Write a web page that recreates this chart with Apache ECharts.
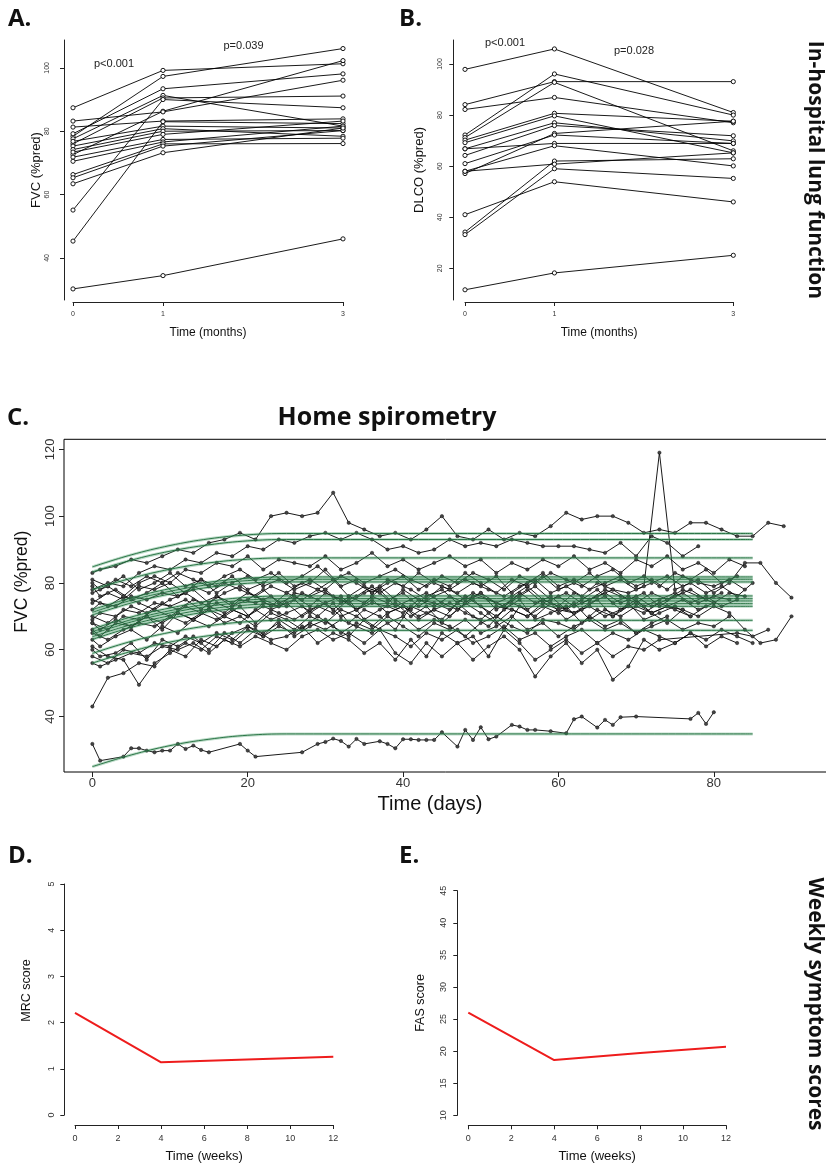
<!DOCTYPE html>
<html><head><meta charset="utf-8">
<script src="https://cdn.jsdelivr.net/npm/echarts@6/dist/echarts.min.js"></script>
<style>html,body{margin:0;padding:0;background:#fff}#c{width:826px;height:1166px}</style>
</head><body><div id="c"></div>
<script>
// ---------- Panel A: FVC (%pred) at 0, 1, 3 months ----------
const monthTicks = [0, 1, 3];
const fvcT0 = [87.4,78.4,79.2,77.6,76.0,55.1,72.6,83.2,81.3,45.3,76.8,75.3,74.2,73.4,71.8,70.5,66.3,65.3,63.4,30.2];
const fvcT1 = [99.2,97.3,93.4,91.3,90.5,90.0,86.3,86.1,83.2,83.0,81.6,80.8,80.0,79.0,77.4,76.6,76.0,75.3,73.2,34.4];
const fvcT3 = [101.3,106.1,98.1,81.6,91.1,87.4,102.3,96.1,83.9,82.4,81.0,78.4,80.2,83.2,77.8,81.6,76.1,80.2,81.0,46.0];
// ---------- Panel B: DLCO (%pred) ----------
const dlcoT0 = [97.9,72.2,84.1,71.2,82.2,70.2,69.2,66.8,64.2,57.1,61.0,66.8,58.0,34.2,33.2,58.0,41.0,11.6];
const dlcoT1 = [105.9,96.1,93.1,92.8,86.9,80.7,79.7,77.0,75.9,72.8,72.2,68.9,68.0,62.0,59.0,60.8,53.9,18.2];
const dlcoT3 = [81.0,80.0,93.1,66.0,77.0,77.6,65.2,69.9,71.9,77.6,68.9,68.9,60.1,62.9,55.2,65.2,46.0,25.1];
// ---------- Panel C: home spirometry ----------
const dayTicks = [0, 20, 40, 60, 80];
const fvcTicks = [40, 60, 80, 100, 120];
const gridEven = [0,2,4,6,8,10,12,14,16,18,20,22,24,26,28,30,32,34,36,38,40,42,44,46,48,50,52,54,56,58,60,62,64,66,68,70,72,74,76,78,80,82,84,86,88,90];
const gridOdd  = [0,1,3,5,7,9,11,13,15,17,19,21,23,25,27,29,31,33,35,37,39,41,43,45,47,49,51,53,55,57,59,61,63,65,67,69,71,73,75,77,79,81,83,85,87,89];
const p01 = [83,84,85,87,86,88,90,89,92,93,95,93,100,101,100,101,107,98,96,94,95,93,96,100,94,93,96,93,95,94,97,101,99,100,100,98,95,96,95,98,98,96,94,94,98,97];
const p02 = [78,80,79,83,85,84,87,86,89,88,91,90,93,92,94,95,93,95,93,90,91,89,90,93,91,92,91,93,92,91,91,91,90,89,92,88,94,92,88,91];
const p03 = [77,79,76,80,82,80,84,83,86,85,88,84,87,86,85,88,84,86,89,85,87,84,86,88,85,87,83,86,84,87,85,88,84,86,83,87,85,88,84,86,83,87,85];
const p04 = [80,78,81,79,82,80,83,81,79,82,84,81,83,80,82,85,81,83,80,82,84,81,79,82,80,83,81,78,82,80,83,81,79,82,84,80,82,79,83,81,84,80,82];
const p05 = [74,77,75,79,78,80,77,81,79,82,78,80,83,79,81,78,82,80,77,81,79,83,80,78,81,79,82,77,80,83,79,81,78,80,82,79,81,78,82,80,79,81,78];
const p06 = [72,74,73,76,75,77,76,79,77,80,78,76,79,77,80,78,81,76,79,77,80,78,75,79,77,80,78,76,79,81,77,79,76,80,78,77,79,119,78,80,77,79,76,80];
const p07 = [70,68,72,71,74,73,75,72,76,74,77,75,73,77,76,78,74,76,79,75,77,73,76,78,75,77,74,76,79,75,73,77,75,78,76,74,77,75,78,76,74,77,76];
const p08 = [69,71,70,73,71,74,72,75,73,71,75,74,76,73,77,75,72,76,74,78,73,75,77,74,72,76,75,73,77,74,76,72,75,78,74,76,73,75,77,74,76,73,75];
const p09 = [68,66,70,69,72,70,73,71,74,72,70,74,73,75,71,74,76,72,74,73,71,75,74,72,76,73,70,74,72,75,73,71,74,76,72,74,71,73,75,72,74];
const p10 = [66,64,68,67,70,66,71,69,72,70,73,68,72,74,70,73,71,75,69,72,74,70,73,68,72,75,71,66,73,70,74,69,72,75,70,73,71,74,72,70,73];
const p11 = [65,63,66,68,67,70,68,71,69,72,70,73,71,69,72,74,70,72,75,71,73,70,72,74,71,69,73,72,70,74,72,71,73,70,72,75,71,73,72];
const p12 = [63,61,64,66,63,67,65,69,67,70,68,72,69,71,73,70,74,68,72,70,66,73,71,69,74,70,67,72,75,69,71,73,68,72,70,74,69,71,73,70];
const p13 = [61,58,57,49.5,56,59,62,60,64,62,66,64,67,65,68,66,69,67,65,68,70,66,69,67,64,68,70,67,65,69,68,66,70,67,69,65,68,70];
const p14 = [60,58,59,62,57,63,61,64,60,65,62,66,63,64,67,62,65,63,59,62,57,63,58,65,62,57,61,64,60,52,58,62,56,60,51,55,63,60,62,65,61,64,62];
const p15 = [58,56,60,59,62,61,64,62,65,63,67,65,68,64,67,69,65,68,66,70,67,64,68,66,69,65,67,70,66,68,64,67,69,66,68,65,67,69,66,68,67,70];
const p16 = [56,55,57,59,58,61,60,62,59,63,61,64,62,60,64,66,63,65,62,66,64,61,65,63,66,62,64,67,63,65,61,64,66,62,65,63,66,64,62,65,63,66,64,62];
const p17 = [79,76,78,75,77,80,76,78,74,77,79,76,73,77,75,78,76,74,77,79,75,72,76,78,74,77,75,73,76,79,75,77,74,76,78,75,77,73,76,78,75,77];
const p18 = [81,79,82,78,80,83,79,81,77,80,82,79,81,78,80,84,79,81,77,80,82,78,81,79,83,80,77,81,79,82,78,80,83,79,81,78,80,82,79,81,77,80,86,86,80,75.6];
const p19 = [43,51.6,53,56,55,60,58,63,61,65,67,64,69,66,70,68,72,70,67,71,73,69,72,70,74,71,68,72,70,73,71,74,69,72,70,73,71,68,72,70,73,71,66,62,63,70];
const p20 = [68,66,69,67,70,68,71,69,72,68,70,67,71,69,66,70,67,64,69,66,59,56,62,58,62,64,58,66,62,57,60,63,59,62,58,61,60,63,null,null,null,null,65,64,66];
const p21 = [75,73,76,74,72,75,77,74,76,73,75,78,74,76,73,77,75,72,76,74,78,75,73,76,74,77,72,75,78,74,76,73,75,77,74,76,73,75,77,74,76,75];
const lowDays = [0,1,4,5,6,7,8,9,10,11,12,13,14,15,19,20,21,27,29,30,31,32,33,34,35,37,38,39,40,41,42,43,44,45,47,48,49,50,51,52,54,55,56,57,59,61,62,63,65,66,67,68,70,77,78,79,80];
const lowVals = [31.8,26.8,28,30.5,30.5,29.8,29.3,29.8,29.8,31.8,30.3,31.3,30,29.3,31.8,29.8,28,29.3,31.8,32.4,33.4,32.7,31,33.3,31.8,32.6,31.8,30.5,33.2,33.2,33,33,33,35.3,31,36,33,36.8,33.2,34,37.5,37,36,36,35.6,35,39.2,40,36.7,39,37.5,39.8,40,39.3,41.1,37.8,41.3];
// fitted curves, read at these days
const fitDays = [0,5,10,15,20,25,85];
const fit01 = [84.8,88.4,91.2,93.2,94.4,94.8,94.8];
const fit02 = [83.3,86.8,89.5,91.4,92.6,93.0,93.0];
const fit03 = [78.0,81.4,84.1,86.0,87.1,87.5,87.5];
const fit04 = [72.0,75.5,78.3,80.2,81.4,81.8,81.8];
const fit05 = [71.2,74.8,77.5,79.5,80.7,81.1,81.1];
const fit06 = [70.4,74.0,76.7,78.7,79.9,80.3,80.3];
const fit07 = [66.2,69.8,72.5,74.5,75.7,76.1,76.1];
const fit08 = [65.4,69.0,71.7,73.7,74.9,75.3,75.3];
const fit09 = [64.7,68.3,71.0,73.0,74.2,74.6,74.6];
const fit10 = [63.9,67.5,70.2,72.2,73.4,73.8,73.8];
const fit11 = [63.1,66.7,69.4,71.4,72.6,73.0,73.0];
const fit12 = [58.9,62.5,65.2,67.2,68.4,68.8,68.8];
const fit13 = [56.0,59.5,62.3,64.2,65.4,65.8,65.8];
const fit14 = [25.0,28.5,31.3,33.2,34.4,34.8,34.8];
// ---------- Panels D, E ----------
const weeks = [0, 4, 8, 12];
const mrcScore = [2.21, 1.14, 1.20, 1.26];
const fasScore = [26.0, 18.6, 19.7, 20.7];

const RF = '"Liberation Sans", Arial, sans-serif';
const BF = '"Open Sans", "Noto Sans", sans-serif';

const homeList = [
  [gridOdd,p01],[gridEven,p02],[gridEven,p03],[gridOdd,p04],[gridEven,p05],[gridOdd,p06],[gridEven,p07],
  [gridOdd,p08],[gridEven,p09],[gridOdd,p10],[gridEven,p11],[gridOdd,p12],[gridEven,p13],[gridOdd,p14],
  [gridEven,p15],[gridOdd,p16],[gridOdd,p17],[gridEven,p18],[gridEven,p19],[gridOdd,p20],[gridEven,p21],
  [lowDays,lowVals]
];
const fitList = [fit01,fit02,fit03,fit04,fit05,fit06,fit07,fit08,fit09,fit10,fit11,fit12,fit13,fit14];

function valAxis(o) {
  const ticks = o.ticks;
  const ax = {
    type: 'value', gridIndex: o.g, min: o.min, max: o.max, offset: o.offset || 0,
    splitLine: {show: false},
    axisLine: {show: o.line !== false, onZero: false, lineStyle: {color: '#222', width: 1}},
    axisTick: {show: true, length: o.tickLen || 4, lineStyle: {color: '#222', width: 1}},
    axisLabel: {show: true, fontSize: o.fs, color: '#333', fontFamily: RF, margin: o.margin, rotate: o.rotate || 0},
    name: o.name, nameLocation: 'middle', nameGap: o.nameGap,
    nameTextStyle: {fontSize: o.nfs, color: '#111', fontFamily: RF, padding: o.npad || 0}
  };
  if (ticks) { ax.axisTick.customValues = ticks; ax.axisLabel.customValues = ticks; }
  if (o.interval) ax.interval = o.interval;
  return ax;
}

const grids = [
  {left: 73, top: 40, width: 270, height: 260},
  {left: 465, top: 40, width: 268.3, height: 260},
  {left: 64, top: 439.3, width: 764, height: 332.7, show: true, borderColor: '#000', borderWidth: 1, backgroundColor: 'transparent'},
  {left: 75, top: 884, width: 258.3, height: 231},
  {left: 468.3, top: 890.7, width: 257.7, height: 224.6}
].map(g => Object.assign({outerBoundsMode: 'none', containLabel: false}, g));

const xAxes = [
  valAxis({g:0, min:0, max:3, offset:2, ticks:monthTicks, fs:7, margin:9, name:'Time (months)', nameGap:25, nfs:12}),
  valAxis({g:1, min:0, max:3, offset:2, ticks:monthTicks, fs:7, margin:9, name:'Time (months)', nameGap:25, nfs:12}),
  valAxis({g:2, min:-3.65, max:94.7, line:false, ticks:dayTicks, fs:13, margin:5, tickLen:5, name:'Time (days)', nameGap:22, nfs:20, npad:[0,32,0,0]}),
  valAxis({g:3, min:0, max:12, interval:2, offset:10, fs:9, margin:9, name:'Time (weeks)', nameGap:25, nfs:13}),
  valAxis({g:4, min:0, max:12, interval:2, offset:10, fs:9, margin:9, name:'Time (weeks)', nameGap:25, nfs:13})
];
const yAxes = [
  valAxis({g:0, min:26.7, max:108.8, offset:9, ticks:[40,60,80,100], fs:7, margin:13, rotate:90, name:'FVC (%pred)', nameGap:21, nfs:13}),
  valAxis({g:1, min:7.6, max:109.4, offset:11.7, ticks:[20,40,60,80,100], fs:7, margin:9.5, rotate:90, name:'DLCO (%pred)', nameGap:27, nfs:13}),
  valAxis({g:2, min:23.4, max:123, line:false, ticks:fvcTicks, fs:13, margin:7, tickLen:5, rotate:90, name:'FVC (%pred)', nameGap:33, nfs:17.5, npad:[0,0,0,48]}),
  valAxis({g:3, min:0, max:5, interval:1, offset:10.7, fs:9, margin:8, rotate:90, name:'MRC score', nameGap:31, nfs:12.5, npad:[0,0,0,18]}),
  valAxis({g:4, min:10, max:45, interval:5, offset:11, fs:9, margin:9.5, rotate:90, name:'FAS score', nameGap:30, nfs:12.5})
];

const series = [];
function pairLines(idx, t0, t1, t3) {
  for (let i = 0; i < t0.length; i++) {
    series.push({
      type: 'line', xAxisIndex: idx, yAxisIndex: idx,
      data: [[monthTicks[0], t0[i]], [monthTicks[1], t1[i]], [monthTicks[2], t3[i]]],
      symbol: 'circle', symbolSize: 4.2, connectNulls: true,
      lineStyle: {color: '#000', width: 0.9},
      itemStyle: {color: '#fff', borderColor: '#000', borderWidth: 0.9},
      silent: true, animation: false
    });
  }
}
pairLines(0, fvcT0, fvcT1, fvcT3);
pairLines(1, dlcoT0, dlcoT1, dlcoT3);

homeList.forEach(([days, vals]) => {
  series.push({
    type: 'line', xAxisIndex: 2, yAxisIndex: 2,
    data: vals.map((v, i) => [days[i], v]),
    symbol: 'circle', symbolSize: 3.4, connectNulls: true,
    lineStyle: {color: '#000', width: 0.9},
    itemStyle: {color: '#444', borderColor: '#000', borderWidth: 0.4},
    silent: true, animation: false, z: 2
  });
});
fitList.forEach(f => {
  const d = f.map((v, i) => [fitDays[i], v]);
  series.push({
    type: 'line', xAxisIndex: 2, yAxisIndex: 2, data: d, smooth: 0.4, symbol: 'none',
    lineStyle: {color: 'rgba(80,160,110,0.38)', width: 3}, silent: true, animation: false, z: 3
  });
  series.push({
    type: 'line', xAxisIndex: 2, yAxisIndex: 2, data: d, smooth: 0.4, symbol: 'none',
    lineStyle: {color: '#1b6a38', width: 0.9}, silent: true, animation: false, z: 4
  });
});
series.push({
  type: 'line', xAxisIndex: 3, yAxisIndex: 3, data: weeks.map((w, i) => [w, mrcScore[i]]),
  symbol: 'none', lineStyle: {color: '#ee1c1c', width: 2}, silent: true, animation: false
});
series.push({
  type: 'line', xAxisIndex: 4, yAxisIndex: 4, data: weeks.map((w, i) => [w, fasScore[i]]),
  symbol: 'none', lineStyle: {color: '#ee1c1c', width: 2}, silent: true, animation: false
});

function txt(t, x, y, font, opts) {
  opts = opts || {};
  return {
    type: 'text', x: x, y: y, rotation: opts.rot || 0, silent: true,
    style: {
      text: t, font: font, fill: opts.fill || '#111',
      textAlign: opts.align || 'left', align: opts.align || 'left',
      textVerticalAlign: 'middle', verticalAlign: 'middle'
    }
  };
}
const graphics = [
  txt('A.', 8, 19, 'bold 24px ' + BF),
  txt('B.', 399, 19, 'bold 24px ' + BF),
  txt('C.', 7, 418, 'bold 24px ' + BF),
  txt('D.', 8, 856, 'bold 24px ' + BF),
  txt('E.', 399, 856, 'bold 24px ' + BF),
  txt('Home spirometry', 387, 418, 'bold 25px ' + BF, {align: 'center'}),
  txt('In-hospital lung function', 815, 170, 'bold 21px ' + BF, {align: 'center', rot: -Math.PI / 2}),
  txt('Weekly symptom scores', 815, 1004, 'bold 21px ' + BF, {align: 'center', rot: -Math.PI / 2}),
  txt('p<0.001', 114, 64, '11px ' + RF, {align: 'center', fill: '#222'}),
  txt('p=0.039', 243.5, 46, '11px ' + RF, {align: 'center', fill: '#222'}),
  txt('p<0.001', 505, 43, '11px ' + RF, {align: 'center', fill: '#222'}),
  txt('p=0.028', 634, 51, '11px ' + RF, {align: 'center', fill: '#222'})
];

const chart = echarts.init(document.getElementById('c'), null, {renderer: 'canvas', width: 826, height: 1166});
chart.setOption({
  backgroundColor: '#fff',
  animation: false,
  grid: grids,
  xAxis: xAxes,
  yAxis: yAxes,
  series: series,
  graphic: {elements: graphics}
});
</script>
</body></html>
